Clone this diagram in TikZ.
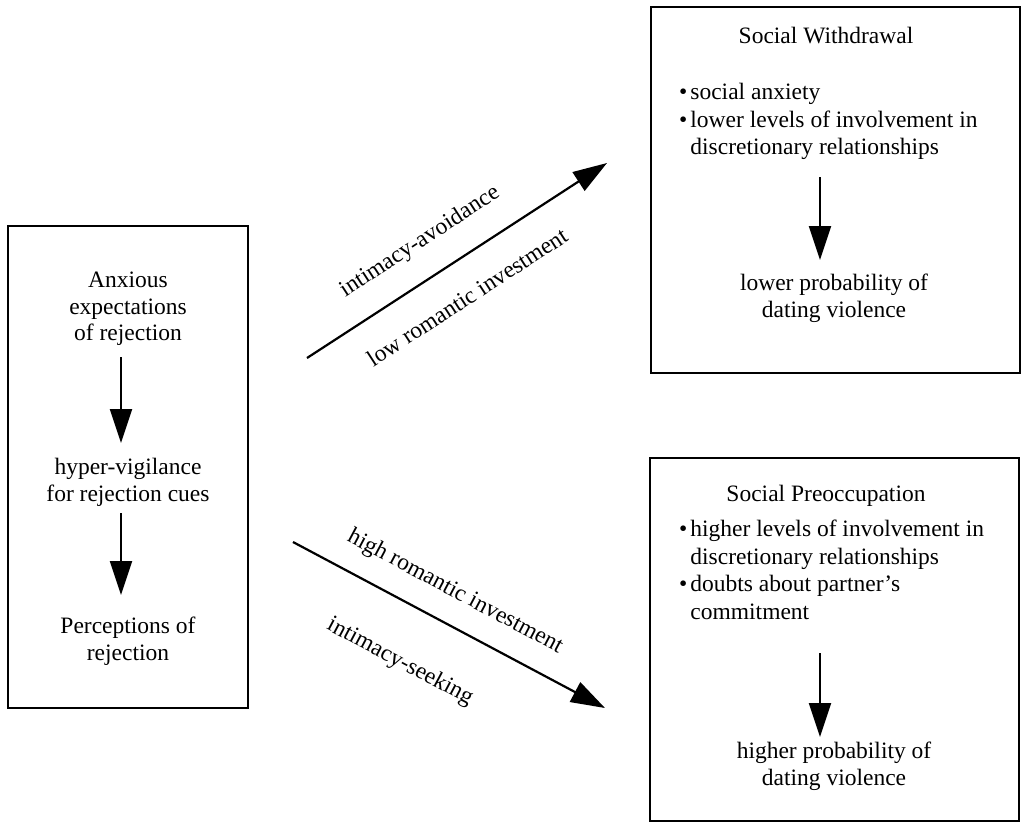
\documentclass[tikz,border=0pt]{standalone}
\usepackage{fontspec}
\setmainfont{Liberation Serif}
\usetikzlibrary{arrows.meta}
\newcommand{\bul}{\textbullet\kern3pt}
\newcommand{\nobul}{\hphantom{\textbullet\kern3pt}}
\begin{document}
\begin{tikzpicture}[x=1pt,y=-1pt,
  box/.style={draw, line width=2pt, inner sep=0pt},
  txt/.style={font=\fontsize{23.5}{26.5}\selectfont, align=center, inner sep=0pt, anchor=north},
  ltxt/.style={font=\fontsize{23.5}{27.5}\selectfont, align=left, inner sep=0pt, anchor=north west},
  arr/.style={line width=2.2pt, -{Triangle[length=34pt,width=22pt]}},
  lab/.style={font=\fontsize{23.5}{26}\selectfont, inner sep=0pt},
]
\useasboundingbox (0,0) rectangle (1022,823);
% boxes
\node[box, minimum width=240pt, minimum height=482pt] (L) at (128,467) {};
\node[box, minimum width=369pt, minimum height=366pt] (TR) at (835.5,190) {};
\node[box, minimum width=369pt, minimum height=363pt] (BR) at (834.5,639.5) {};
% left box text
\node[txt] (anx) at (128,272) {Anxious\\expectations\\of rejection};
\node[txt] (hyp) at (128,458) {hyper-vigilance\\for rejection cues};
\node[txt] (per) at (128,617) {Perceptions of\\rejection};
\coordinate (a1s) at (121,357); \coordinate (a1e) at (121,443);
\coordinate (a2s) at (121,513); \coordinate (a2e) at (121,595);
\draw[arr] (a1s) -- (a1e);
\draw[arr] (a2s) -- (a2e);
% top right
\node[txt] (sw) at (826,27) {Social Withdrawal};
\node[ltxt] (swl) at (679,83) {\bul social anxiety\\\bul lower levels of involvement in\\\nobul discretionary relationships};
\node[txt] (lp) at (834,274) {lower probability of\\dating violence};
\coordinate (a3s) at (820,177); \coordinate (a3e) at (820,260);
\draw[arr] (a3s) -- (a3e);
% bottom right
\node[txt] (sp) at (826,485) {Social Preoccupation};
\node[ltxt] (spl) at (679,520) {\bul higher levels of involvement in\\\nobul discretionary relationships\\\bul doubts about partner's\\\nobul commitment};
\node[txt] (hp) at (834,742) {higher probability of\\dating violence};
\coordinate (a4s) at (820,653); \coordinate (a4e) at (820,737);
\draw[arr] (a4s) -- (a4e);
% diagonal arrows
\coordinate (u1) at (307,358); \coordinate (u2) at (607,163);
\draw[arr] (u1) -- (u2);
\node[lab, rotate=33] (ia) at (420,242) {intimacy-avoidance};
\node[lab, rotate=33] (lr) at (467,297) {low romantic investment};
\coordinate (d1) at (293,542); \coordinate (d2) at (605,708);
\draw[arr] (d1) -- (d2);
\node[lab, rotate=-28] (hr) at (455,592) {high romantic investment};
\node[lab, rotate=-28] (is) at (400,662) {intimacy-seeking};
\end{tikzpicture}
\end{document}
